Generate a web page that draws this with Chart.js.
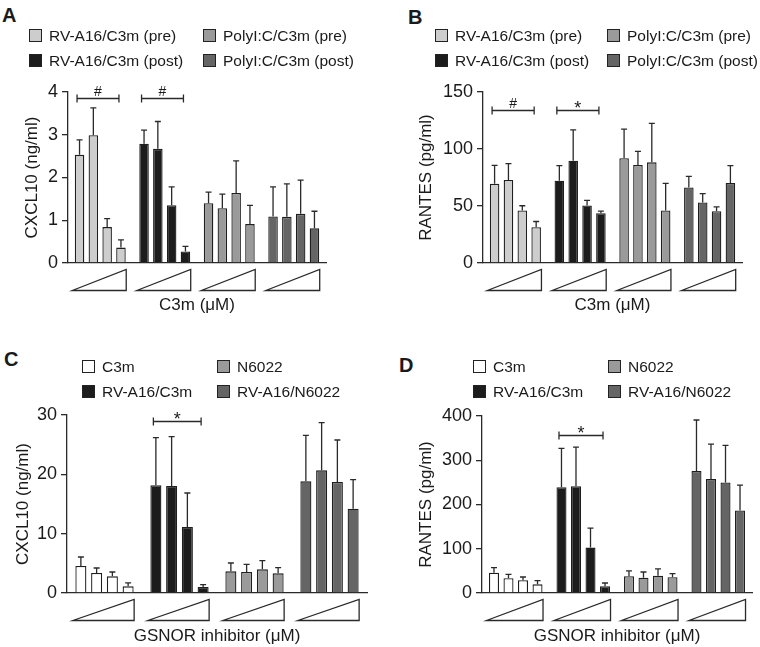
<!DOCTYPE html>
<html>
<head>
<meta charset="utf-8">
<script src="https://cdn.jsdelivr.net/npm/chart.js@4.4.0/dist/chart.umd.min.js"></script>
<style>
  body { margin: 0; background: #fff; }
  #fig { position: relative; width: 760px; height: 647px; overflow: hidden;
         font-family: "Liberation Sans", Arial, Helvetica, sans-serif; color: #1a1a1a; }
  canvas { position: absolute; }
  .letter { position: absolute; font-weight: bold; font-size: 20px; line-height: 20px; }
  .item { position: absolute; display: flex; align-items: center; height: 20px;
          font-size: 15.5px; white-space: nowrap; }
  .sw { width: 11px; height: 11px; border: 1px solid #222; margin-right: 7px; }
</style>
</head>
<body>
<div id="fig">
  <div class="letter" style="left:2px;top:5px">A</div>
  <div class="letter" style="left:408px;top:7px">B</div>
  <div class="letter" style="left:4px;top:349px">C</div>
  <div class="letter" style="left:399px;top:355px">D</div>
  <canvas id="chartA" width="380" height="320" style="left:0;top:0"></canvas>
  <canvas id="chartB" width="380" height="320" style="left:380px;top:0"></canvas>
  <canvas id="chartC" width="380" height="327" style="left:0;top:320px"></canvas>
  <canvas id="chartD" width="380" height="327" style="left:380px;top:320px"></canvas>
</div>
<script>
// groups shown in each panel (legend order), bars inside a group = rising inhibitor dose
const groupsTop = ['RV-A16/C3m (pre)', 'RV-A16/C3m (post)', 'PolyI:C/C3m (pre)', 'PolyI:C/C3m (post)'];
const groupsBottom = ['C3m', 'RV-A16/C3m', 'N6022', 'RV-A16/N6022'];
const doseLevels = ['dose 1', 'dose 2', 'dose 3', 'dose 4'];

// A: CXCL10 (ng/ml)
const aRvPre = [2.53, 2.99, 0.84, 0.36];
const aRvPreErr = [0.35, 0.64, 0.20, 0.18];
const aRvPost = [2.79, 2.67, 1.35, 0.27];
const aRvPostErr = [0.32, 0.64, 0.43, 0.12];
const aPolyPre = [1.40, 1.28, 1.64, 0.91];
const aPolyPreErr = [0.26, 0.33, 0.75, 0.44];
const aPolyPost = [1.09, 1.08, 1.15, 0.81];
const aPolyPostErr = [0.69, 0.77, 0.79, 0.40];

// B: RANTES (pg/ml)
const bRvPre = [69.6, 72.8, 46.1, 31.4];
const bRvPreErr = [16.1, 14.4, 4.1, 5.0];
const bRvPost = [72.2, 89.8, 50.5, 43.7];
const bRvPostErr = [13.2, 27.0, 4.4, 1.8];
const bPolyPre = [91.9, 86.0, 88.3, 46.1];
const bPolyPreErr = [25.5, 12.0, 34.1, 23.8];
const bPolyPost = [66.3, 53.1, 45.5, 70.1];
const bPolyPostErr = [9.7, 7.7, 3.8, 15.3];

// C: CXCL10 (ng/ml)
const cC3m = [4.55, 3.37, 2.81, 1.12];
const cC3mErr = [1.52, 0.84, 0.73, 0.57];
const cRvC3m = [18.15, 18.03, 11.12, 1.01];
const cRvC3mErr = [8.05, 8.32, 5.73, 0.39];
const cN6022 = [3.65, 3.54, 3.99, 3.31];
const cN6022Err = [1.41, 1.29, 1.46, 0.96];
const cRvN6022 = [18.82, 20.67, 18.71, 14.2];
const cRvN6022Err = [7.75, 8.03, 7.08, 4.9];

// D: RANTES (pg/ml)
const dC3m = [46.0, 33.2, 28.7, 19.6];
const dC3mErr = [11.4, 9.1, 7.5, 8.3];
const dRvC3m = [239.2, 241.5, 102.6, 15.1];
const dRvC3mErr = [87.6, 88.3, 43.8, 7.5];
const dN6022 = [37.7, 34.7, 39.2, 35.5];
const dN6022Err = [12.1, 12.8, 15.1, 8.3];
const dRvN6022 = [275.5, 257.4, 249.8, 186.4];
const dRvN6022Err = [115.5, 79.2, 83.8, 57.4];

// significance brackets: group index, height in axis units, mark
const bracketsA = [[0, 3.87, '#'], [1, 3.87, '#']];
const bracketsB = [[0, 134, '#'], [1, 134, '*']];
const bracketsC = [[1, 29, '*']];
const bracketsD = [[1, 358, '*']];

const colorsTop = ['#cdcdcd', '#1c1c1c', '#9a9a9a', '#656565'];
const colorsBottom = ['#ffffff', '#1c1c1c', '#9a9a9a', '#656565'];

const family = '"Liberation Sans", Arial, Helvetica, sans-serif';
Chart.defaults.font.family = family;
Chart.defaults.color = '#1a1a1a';
const LINE = '#2a2a2a';

const extras = {
  id: 'extras',
  afterDatasetsDraw(chart, args, opts) {
    const ctx = chart.ctx;
    const y = chart.scales.y;
    const area = chart.chartArea;
    ctx.save();
    ctx.strokeStyle = LINE;
    ctx.lineWidth = 1.3;
    // error bars (upper only)
    chart.data.datasets.forEach((ds, di) => {
      chart.getDatasetMeta(di).data.forEach((bar, gi) => {
        const top = y.getPixelForValue(ds.data[gi] + ds.err[gi]);
        ctx.beginPath();
        ctx.moveTo(bar.x, bar.y);
        ctx.lineTo(bar.x, top);
        ctx.moveTo(bar.x - 3, top);
        ctx.lineTo(bar.x + 3, top);
        ctx.stroke();
      });
    });
    const first = chart.getDatasetMeta(0).data;
    const last = chart.getDatasetMeta(chart.data.datasets.length - 1).data;
    // brackets
    opts.brackets.forEach(([g, level, mark]) => {
      const x1 = first[g].x - 2.5, x2 = last[g].x - 2;
      const yy = Math.round(y.getPixelForValue(level)) + 0.5;
      ctx.beginPath();
      ctx.moveTo(x1, yy - 4); ctx.lineTo(x1, yy + 4);
      ctx.moveTo(x1, yy); ctx.lineTo(x2, yy);
      ctx.moveTo(x2, yy - 4); ctx.lineTo(x2, yy + 4);
      ctx.stroke();
      ctx.fillStyle = '#1a1a1a';
      ctx.textAlign = 'center';
      ctx.textBaseline = 'alphabetic';
      if (mark === '*') {
        ctx.font = '18px ' + family;
        ctx.fillText(mark, (x1 + x2) / 2, yy + 3);
      } else {
        ctx.font = '14px ' + family;
        ctx.fillText(mark, (x1 + x2) / 2, yy - 3);
      }
    });
    // dose triangles under each group
    first.forEach((b, g) => {
      const e = last[g];
      const left = b.x - b.width / 2 - 2.5, right = e.x + e.width / 2 + 0.5;
      const t0 = area.bottom + 6.5, t1 = area.bottom + 27.5;
      ctx.beginPath();
      ctx.moveTo(left, t1);
      ctx.lineTo(right, t1);
      ctx.lineTo(right, t0);
      ctx.closePath();
      ctx.fillStyle = '#fff';
      ctx.fill();
      ctx.stroke();
    });
    ctx.restore();
  }
};

function makePanel(p) {
  const lh = 17 * 1.2;
  const datasets = doseLevels.map((dose, i) => ({
    label: dose,
    data: p.values.map(g => g[i]),
    err: p.errors.map(g => g[i]),
    backgroundColor: p.colors,
    borderColor: '#1e1e1e',
    borderWidth: 1.3,
    categoryPercentage: p.catPct,
    barPercentage: p.barPct
  }));
  const padLeft = p.yTitleX - lh / 2;
  new Chart(document.getElementById(p.id), {
    type: 'bar',
    data: { labels: p.groups, datasets },
    options: {
      responsive: false,
      animation: false,
      devicePixelRatio: 1,
      layout: { padding: { left: padLeft, right: p.w - p.right, top: p.top, bottom: 0 } },
      plugins: {
        legend: { display: false },
        tooltip: { enabled: false },
        extras: { brackets: p.brackets }
      },
      scales: {
        x: {
          ticks: { display: false },
          grid: { display: false },
          border: { display: true, color: LINE, width: 1.3 },
          title: {
            display: true, text: p.xTitle, color: '#1a1a1a',
            font: { size: 17 },
            padding: { top: 0, bottom: Math.max(0, p.h - p.xTitleY - lh / 2) }
          },
          afterFit(s) { s.height = p.h - p.bottom; }
        },
        y: {
          min: 0, max: p.yMax,
          ticks: { stepSize: p.step, font: { size: 18 }, color: '#1a1a1a', padding: 4 },
          grid: { display: true, drawOnChartArea: false, drawTicks: true, tickLength: 6, color: LINE, lineWidth: 1.3 },
          border: { display: true, color: LINE, width: 1.3 },
          title: { display: true, text: p.yTitle, color: '#1a1a1a', font: { size: 17 }, padding: 0 },
          afterFit(s) { s.width = p.left - padLeft; }
        }
      }
    },
    plugins: [extras]
  });
}

function makeLegend(names, colors, xs, ys) {
  const fig = document.getElementById('fig');
  names.forEach((name, i) => {
    const item = document.createElement('div');
    item.className = 'item';
    item.style.left = xs[i >> 1] + 'px';
    item.style.top = (ys[i & 1] - 3.5) + 'px';
    const sw = document.createElement('span');
    sw.className = 'sw';
    sw.style.background = colors[i];
    item.appendChild(sw);
    item.appendChild(document.createTextNode(name));
    fig.appendChild(item);
  });
}

makePanel({
  id: 'chartA', w: 380, h: 320, left: 68, right: 326, top: 92, bottom: 263,
  yTitleX: 32, xTitleY: 305, yMax: 4, step: 1,
  yTitle: 'CXCL10 (ng/ml)', xTitle: 'C3m (\u03bcM)', groups: groupsTop, colors: colorsTop,
  values: [aRvPre, aRvPost, aPolyPre, aPolyPost],
  errors: [aRvPreErr, aRvPostErr, aPolyPreErr, aPolyPostErr],
  brackets: bracketsA, catPct: 0.856, barPct: 0.69
});
makePanel({
  id: 'chartB', w: 380, h: 320, left: 103, right: 362, top: 92, bottom: 263,
  yTitleX: 46, xTitleY: 305, yMax: 150, step: 50,
  yTitle: 'RANTES (pg/ml)', xTitle: 'C3m (\u03bcM)', groups: groupsTop, colors: colorsTop,
  values: [bRvPre, bRvPost, bPolyPre, bPolyPost],
  errors: [bRvPreErr, bRvPostErr, bPolyPreErr, bPolyPostErr],
  brackets: bracketsB, catPct: 0.856, barPct: 0.69
});
makePanel({
  id: 'chartC', w: 380, h: 327, left: 67, right: 367, top: 95, bottom: 273,
  yTitleX: 23, xTitleY: 318, yMax: 30, step: 10,
  yTitle: 'CXCL10 (ng/ml)', xTitle: 'GSNOR inhibitor (\u03bcM)', groups: groupsBottom, colors: colorsBottom,
  values: [cC3m, cRvC3m, cN6022, cRvN6022],
  errors: [cC3mErr, cRvC3mErr, cN6022Err, cRvN6022Err],
  brackets: bracketsC, catPct: 0.84, barPct: 0.70
});
makePanel({
  id: 'chartD', w: 380, h: 327, left: 102, right: 372, top: 96, bottom: 273,
  yTitleX: 46.7, xTitleY: 318, yMax: 400, step: 100,
  yTitle: 'RANTES (pg/ml)', xTitle: 'GSNOR inhibitor (\u03bcM)', groups: groupsBottom, colors: colorsBottom,
  values: [dC3m, dRvC3m, dN6022, dRvN6022],
  errors: [dC3mErr, dRvC3mErr, dN6022Err, dRvN6022Err],
  brackets: bracketsD, catPct: 0.86, barPct: 0.69
});

makeLegend(groupsTop, colorsTop, [29, 203], [29, 54]);
makeLegend(groupsTop, colorsTop, [435, 607], [29, 54]);
makeLegend(groupsBottom, colorsBottom, [82, 217], [360, 385]);
makeLegend(groupsBottom, colorsBottom, [473, 608], [360, 385]);
</script>
</body>
</html>
